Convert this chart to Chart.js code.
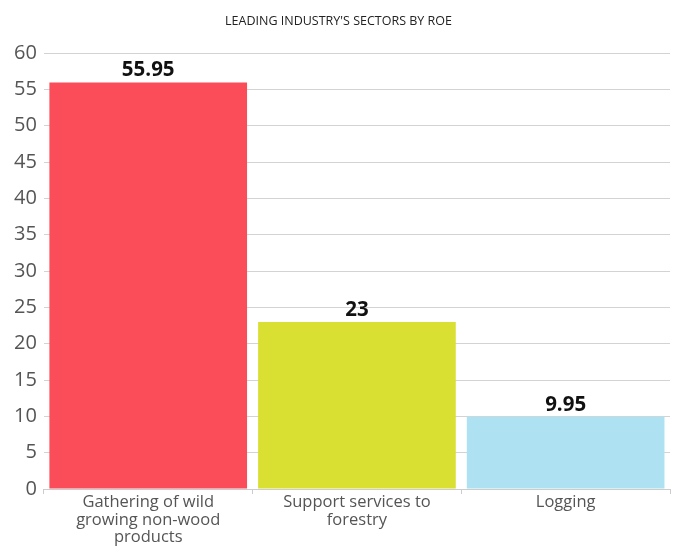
<!DOCTYPE html>
<html>
<head>
<meta charset="utf-8">
<script src="https://cdn.jsdelivr.net/npm/chart.js@4"></script>
<style>
  html, body { margin: 0; padding: 0; background: #fff; }
  #wrap { width: 676px; height: 546px; }
</style>
</head>
<body>
<div id="wrap"><canvas id="roeChart" width="676" height="546"></canvas></div>
<script>
const categories = [
  ['Gathering of wild', 'growing non-wood', 'products'],
  ['Support services to', 'forestry'],
  ['Logging']
];
const roeValues = [55.95, 23, 9.95];
const valueLabels = ['55.95', '23', '9.95'];
const barColors = ['#fb4c5a', '#d9e031', '#aee1f2'];

// draws the bold value above each bar
const valueLabelPlugin = {
  id: 'valueLabels',
  afterDatasetsDraw(chart) {
    const ctx = chart.ctx;
    const meta = chart.getDatasetMeta(0);
    ctx.save();
    ctx.font = 'bold 20.5px "Open Sans", sans-serif';
    ctx.fillStyle = '#111';
    ctx.textAlign = 'center';
    ctx.textBaseline = 'alphabetic';
    meta.data.forEach((bar, i) => {
      ctx.fillText(valueLabels[i], bar.x, bar.y - 6);
    });
    ctx.restore();
  }
};

const ctx = document.getElementById('roeChart').getContext('2d');
new Chart(ctx, {
  type: 'bar',
  data: {
    labels: categories,
    datasets: [{
      data: roeValues,
      backgroundColor: barColors,
      borderWidth: 0,
      barPercentage: 0.947,
      categoryPercentage: 1
    }]
  },
  options: {
    responsive: false,
    animation: false,
    layout: { padding: { left: 7, right: 6, top: 0, bottom: 0 } },
    plugins: {
      legend: { display: false },
      tooltip: { enabled: false },
      title: {
        display: true,
        text: "LEADING INDUSTRY'S SECTORS BY ROE",
        color: '#222',
        font: { family: '"Open Sans", sans-serif', size: 12.5, weight: 'normal' },
        padding: { top: 14, bottom: 24 }
      }
    },
    scales: {
      x: {
        grid: { offset: true, drawOnChartArea: false, tickLength: 5, color: '#ccc' },
        border: { display: true, color: '#ccc' },
        ticks: {
          color: '#555',
          font: { family: '"Open Sans", sans-serif', size: 16.5, lineHeight: 1.05 },
          padding: 0,
          maxRotation: 0
        }
      },
      y: {
        min: 0,
        max: 60,
        grid: { color: '#d3d3d3', drawTicks: false },
        border: { display: false },
        ticks: {
          stepSize: 5,
          color: '#555',
          font: { family: '"Open Sans", sans-serif', size: 20 },
          padding: 7
        }
      }
    }
  },
  plugins: [valueLabelPlugin]
});
</script>
</body>
</html>
